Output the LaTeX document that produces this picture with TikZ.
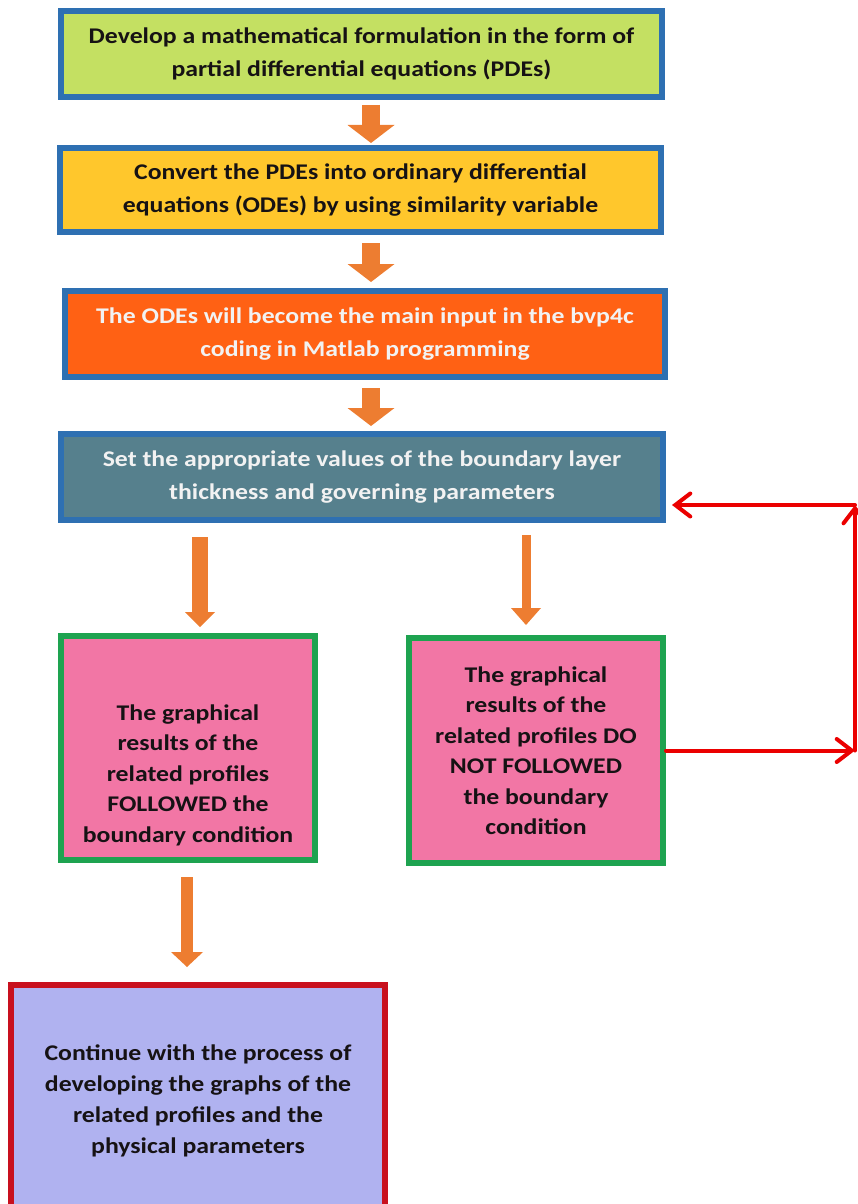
\documentclass[tikz,border=0pt]{standalone}
\usepackage{fontspec}
\setmainfont{Carlito}[FakeStretch=1.15]
\usetikzlibrary{arrows.meta}

\definecolor   {frameColor}{RGB}{ 46, 112, 178}
\definecolor  {resultFrame}{RGB}{ 30, 163,  80}
\definecolor     {endFrame}{RGB}{200,  16,  30}
\definecolor      {pdeFill}{RGB}{196, 224,  98}
\definecolor      {odeFill}{RGB}{255, 199,  44}
\definecolor      {bvpFill}{RGB}{255,  97,  20}
\definecolor      {setFill}{RGB}{ 86, 128, 141}
\definecolor   {resultFill}{RGB}{242, 118, 165}
\definecolor      {endFill}{RGB}{176, 178, 240}
\definecolor   {arrowColor}{RGB}{237, 125,  49}
\definecolor    {loopColor}{RGB}{235,   0,   0}
\definecolor     {darkText}{RGB}{ 22,  18,  20}
\definecolor    {lightText}{RGB}{242, 242, 242}

\tikzset{
  block arrow/.style n args={3}{% shaft, head width, head length
    draw=arrowColor, line width={#1},
    -{Triangle[width={#2}, length={#3}, line width=0pt]}}}

\begin{document}
\begin{tikzpicture}[
  x=1pt, y=-1pt,
  step box/.style   ={draw, line width=6pt, inner sep=0pt, align=center,
                      text=darkText, font=\bfseries\fontsize{22.4}{33}\selectfont},
  top box/.style    ={step box, draw=frameColor, minimum width=601pt, minimum height=86pt},
  result box/.style ={step box, draw=resultFrame, fill=resultFill,
                      minimum width=254pt, minimum height=224pt,
                      font=\bfseries\fontsize{22.4}{30.5}\selectfont},
  result text/.style={align=center, inner sep=0pt, text=darkText,
                      font=\bfseries\fontsize{22.4}{30.5}\selectfont},
  end box/.style    ={step box, draw=endFrame, fill=endFill,
                      minimum width=374pt, minimum height=232pt,
                      font=\bfseries\fontsize{22.4}{31}\selectfont},
  loop arrow/.style ={draw=loopColor, line width=4pt, line cap=round,
                      -{Straight Barb[length=15pt, width=23pt, line cap=round]}},
]
\useasboundingbox (0,0) rectangle (858,1204);

%% main chain
\node[top box, fill=pdeFill] (pde) at (361.5,54)
  {Develop a mathematical formulation in the form of\\partial differential equations (PDEs)};
\node[top box, fill=odeFill, minimum height=84pt] (ode) at (360.5,190)
  {Convert the PDEs into ordinary differential\\equations (ODEs) by using similarity variable};
\node[top box, fill=bvpFill, text=lightText, minimum width=600pt] (bvp) at (365,334)
  {The ODEs will become the main input in the bvp4c\\coding in Matlab programming};
\node[top box, fill=setFill, text=lightText, minimum width=602pt] (setp) at (362,477)
  {Set the appropriate values of the boundary layer\\thickness and governing parameters};

%% the two outcomes
\node[result box] (follow) at (188,748) {};
\node[result text] (follow text) at ([yshift=-27pt]follow.center)
  {The graphical\\results of the\\related profiles\\FOLLOWED the\\boundary condition};
\node[result box, minimum height=225pt] (notfollow) at (536,750.5)
  {The graphical\\results of the\\related profiles DO\\NOT FOLLOWED\\the boundary\\condition};

\node[end box] (cont) at (198,1101)
  {Continue with the process of\\developing the graphs of the\\related profiles and the\\physical parameters};

%% orange arrows
\draw[block arrow={18pt}{47pt}{18pt}] ([xshift=9.5pt, yshift=-5pt]pde.south) -- ([xshift=10.5pt, yshift=2pt]ode.north);
\draw[block arrow={18pt}{47pt}{18pt}] ([xshift=10.5pt,yshift=-8pt]ode.south) -- ([xshift=6pt,   yshift=6pt]bvp.north);
\draw[block arrow={18pt}{47pt}{18pt}] ([xshift=6pt,   yshift=-8pt]bvp.south) -- ([xshift=9pt,   yshift=5pt]setp.north);
\draw[block arrow={16pt}{30pt}{15pt}] ([xshift=-162pt,yshift=-14pt]setp.south) -- ([xshift=12pt, yshift=6pt]follow.north);
\draw[block arrow={9pt}{30pt}{17pt}]  ([xshift=164pt, yshift=-12pt]setp.south) -- ([xshift=-10pt,yshift=10pt]notfollow.north);
\draw[block arrow={12pt}{32pt}{15pt}] ([xshift=-1pt,  yshift=-14pt]follow.south) -- ([xshift=-11pt,yshift=15pt]cont.north);

%% back to the parameters
\coordinate (loop bottom) at (855,750.5);
\coordinate (loop top)    at (855,505);
\draw[loop arrow] (notfollow.east) -- (loop bottom);
\draw[loop arrow] (loop bottom) -- (loop top);
\draw[loop arrow] (loop top) -- ([xshift=6pt, yshift=-28pt]setp.east);

\end{tikzpicture}
\end{document}
